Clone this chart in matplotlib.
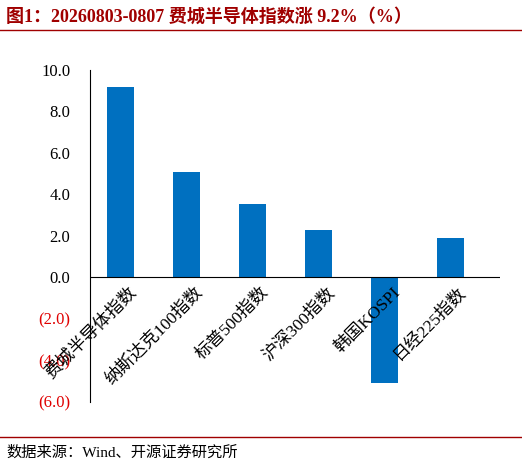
import matplotlib.pyplot as plt
from matplotlib.ticker import FuncFormatter

plt.rcParams['font.family'] = ['Liberation Serif', 'Noto Sans CJK SC']

categories = ['费城半导体指数', '纳斯达克100指数', '标普500指数', '沪深300指数', '韩国KOSPI', '日经225指数']
values = [9.2, 5.1, 3.55, 2.3, -5.1, 1.9]
yticks = [-6, -4, -2, 0, 2, 4, 6, 8, 10]

fig = plt.figure(figsize=(5.22, 4.67), dpi=100)
ax = fig.add_axes([0.172, 0.14, 0.785, 0.71])

x = list(range(len(categories)))
ax.bar(x, values, width=0.41, color='#0070C0')
ax.axhline(0, color='black', lw=0.8)
ax.set_ylim(-6, 10)
ax.set_xlim(-0.47, 5.74)
ax.set_yticks(yticks)
ax.yaxis.set_major_formatter(FuncFormatter(lambda v, p: f'({abs(v):.1f})' if v < 0 else f'{v:.1f}'))
for lab, v in zip(ax.get_yticklabels(), yticks):
    lab.set_color('#E00000' if v < 0 else 'black')
ax.tick_params(axis='y', labelsize=12, length=0, pad=14)
ax.set_xticks([])
for s in ['top', 'right', 'bottom']:
    ax.spines[s].set_visible(False)
ax.spines['left'].set_color('black')

for i, c in enumerate(categories):
    ax.text(i + 0.12, -0.35, c, rotation=45, ha='right', va='top', rotation_mode='anchor',
            fontsize=12.5)

fig.text(0.012, 0.965, '图1：20260803-0807 费城半导体指数涨 9.2%（%）', fontsize=13,
         fontweight='bold', va='center', color='#A00000')
fig.add_artist(plt.Line2D([0.0, 1.0], [0.935, 0.935], color='#A00000', lw=1))
fig.add_artist(plt.Line2D([0.0, 1.0], [0.065, 0.065], color='#A00000', lw=1))
fig.text(0.012, 0.03, '数据来源：Wind、开源证券研究所', fontsize=11, va='center')

fig.savefig('out.png', dpi=100)
